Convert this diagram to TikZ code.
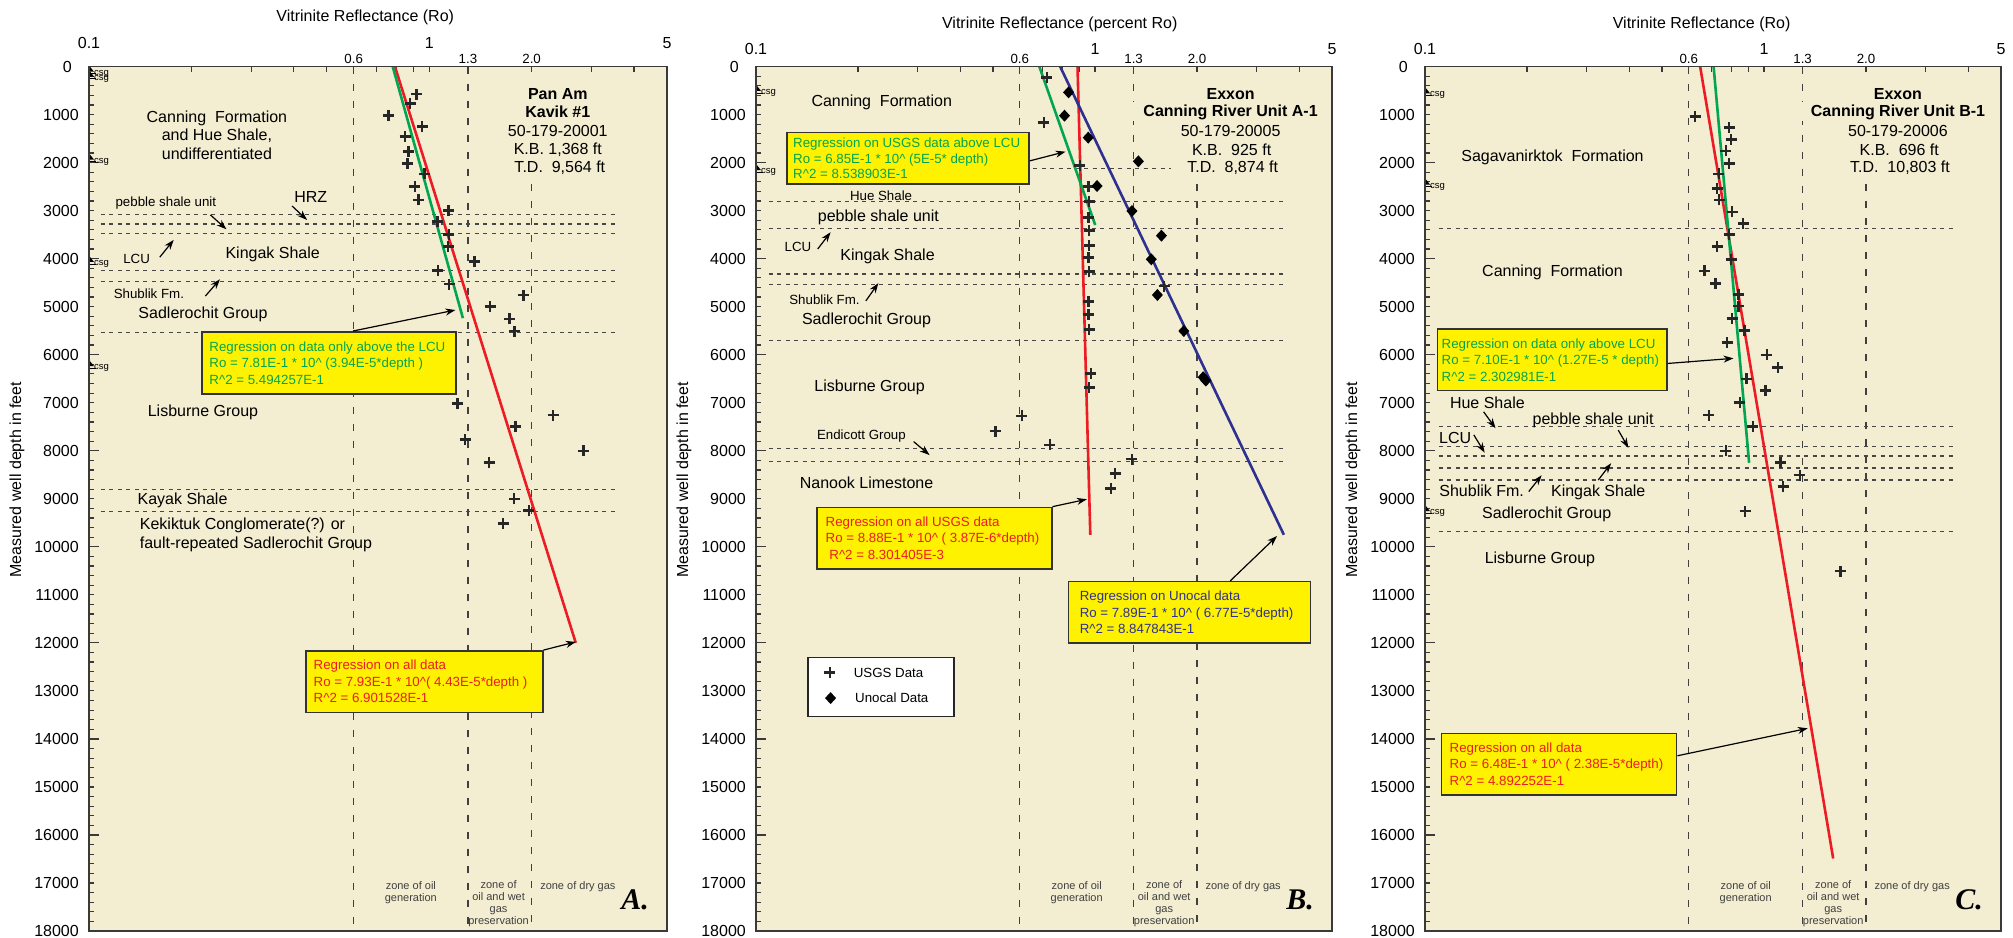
\documentclass[tikz,border=0pt]{standalone}
\usepackage{fontspec}
\setmainfont{Liberation Sans}
\newfontfamily\lblserif{Liberation Serif}
\usetikzlibrary{arrows.meta,calc}
\definecolor{bgc}{HTML}{F3EDD1}
\definecolor{ylw}{HTML}{FFF200}
\definecolor{rdl}{HTML}{ED1C24}
\definecolor{grl}{HTML}{00A651}
\definecolor{bll}{HTML}{2E3192}
\definecolor{frm}{HTML}{3A3A3A}
\tikzset{
 f16/.style={font=\fontsize{16}{18.7}\selectfont, inner sep=0pt},
 fb/.style={font=\fontsize{16}{18.7}\selectfont\bfseries},
 f13/.style={font=\fontsize{13.3}{16}\selectfont, inner sep=0pt},
 f11/.style={font=\fontsize{11}{12}\selectfont, text=black!75, inner sep=0pt, align=center},
 btext/.style={font=\fontsize{13.3}{16.5}\selectfont, align=left, inner sep=0pt},
 csgt/.style={font=\fontsize{9.5}{10}\selectfont, inner sep=0pt},
 winfo/.style={fill=bgc, inner xsep=10pt, inner ysep=2pt},
 tickst/.style={draw=frm, line width=1.2pt},
 vdash/.style={draw=black!75, line width=1.2pt, dash pattern=on 7pt off 10pt},
 hdot/.style={draw=black!72, line width=1.2pt, dash pattern=on 4pt off 4.5pt},
 plotframe/.style={draw=frm, line width=1.8pt},
 redl/.style={draw=rdl, line width=2.6pt},
 grnl/.style={draw=grl, line width=2.6pt},
 blul/.style={draw=bll, line width=2.6pt},
 crs/.style={draw=black!85, line width=2.4pt},
 ybox/.style={draw=black!80, line width=1.5pt, fill=ylw, inner sep=0pt},
 arr/.style={draw=black, line width=1.2pt, -{Stealth[length=10pt,width=7pt]}},
 letterlbl/.style={font={\fontsize{30}{30}\lblserif\bfseries\itshape}, inner sep=0pt}
}
\newcommand\plotframe[6]{%
 \fill[bgc] (0,0) rectangle (1.69897,18);
 \foreach \kk in {0.2,0.4,...,17.9} \draw[tickst] (0,\kk) -- ++(5pt,0);
 \foreach \kk in {2,4,...,16} \draw[tickst] (0,\kk) -- ++(10pt,0);
 \foreach \dd in {0.30103,0.47712,0.60206,0.69897,0.84510,0.90309,0.95424,1,1.30103,1.47712,1.60206} \draw[tickst] (\dd,0) -- ++(0,-5pt);
 \draw[vdash] (0.77815,0) -- (0.77815,18);
 \draw[vdash] (1.11394,0) -- (1.11394,18);
 \draw[vdash] (1.30103,2.45) -- (1.30103,18);
 \node[f16,anchor=east] (#6d0) at ([xshift=-17pt]0,0) {0};
 \foreach \kk in {1,...,18} \node[f16,anchor=east] (#6d\kk) at ([xshift=-10pt]0,\kk) {\number\numexpr\kk*1000\relax};
 \node[f16,rotate=90] (#6ylab) at ([xshift=-72pt]0,8.6) {Measured well depth in feet};
 \node[f16] (#6title) at ([yshift=#3]#2,0) {#1};
 \node[f16] (#6xa) at ([yshift=#4]0,0) {0.1};
 \node[f16] (#6xb) at ([yshift=#4]1,0) {1};
 \node[f16] (#6xc) at ([yshift=#4]1.69897,0) {5};
 \node[f13] (#6xd) at ([yshift=8pt]0.77815,0) {0.6};
 \node[f13] (#6xe) at ([yshift=8pt]1.11394,0) {1.3};
 \node[f13] (#6xf) at ([yshift=8pt]1.30103,0) {2.0};
 \node[f11] (#6za) at (0.946,17.2) {zone of oil\\generation};
 \node[f11] (#6zb) at (1.204,17.44) {zone of\\oil and wet\\gas\\preservation};
 \node[f11] (#6zc) at (1.437,17.07) {zone of dry gas};
 \node[letterlbl] (#6let) at (1.605,17.35) {#5};
}
\newcommand\crosses[1]{\foreach \aa/\bb in {#1} \draw[crs] (\aa,\bb) +(-5.5pt,0) -- +(5.5pt,0) (\aa,\bb) +(0,-5.5pt) -- +(0,5.5pt);}
\newcommand\diams[1]{\foreach \aa/\bb in {#1} \fill[black] (\aa,\bb) +(0,6pt) -- +(5.5pt,0) -- +(0,-6pt) -- +(-5.5pt,0) -- cycle;}
\newcommand\csgmark[2]{%
 \fill[black] ([xshift=1pt,yshift=7pt]0,#1) -- ([xshift=5pt,yshift=2pt]0,#1) -- ([xshift=1pt,yshift=2pt]0,#1) -- cycle;
 \draw[black,line width=0.8pt] ([xshift=1pt]0,#1) -- ([xshift=7pt]0,#1);
 \node[csgt,anchor=base west] (#2) at ([xshift=5pt,yshift=-1.5pt]0,#1) {csg};}
\begin{document}
\begin{tikzpicture}[x=1pt,y=1pt]
\useasboundingbox (0,0) rectangle (2013,-937);
\fill[white] (0,0) rectangle (2013,-937);

%================ PANEL A
\begin{scope}[shift={(89pt,-66.5pt)},x=340.2pt,y=-48.03pt]
\plotframe{Vitrinite Reflectance (Ro)}{0.812}{49.5pt}{23.5pt}{A.}{A}
\foreach \kk in {3.08,3.28,3.47,4.25,4.48,5.53,8.80,9.27} \draw[hdot] (0.035,\kk) -- (1.55,\kk);
\node[winfo,fb] (Aw1) at (1.378,0.573) {Pan Am};
\node[winfo,fb] (Aw2) at (1.378,0.947) {Kavik \#1};
\node[winfo,f16,inner xsep=10pt,inner ysep=2pt] (Aw3) at (1.378,1.336) {50-179-20001};
\node[winfo,f16,inner xsep=10pt,inner ysep=2pt] (Aw4) at (1.378,1.724) {K.B. 1,368 ft};
\node[winfo,f16,inner xsep=10pt,inner ysep=2pt] (Aw5) at (1.384,2.106) {T.D.\ \ 9,564 ft};
\csgmark{0.15}{Acsg1}\csgmark{0.25}{Acsg2}\csgmark{1.98}{Acsg3}\csgmark{4.11}{Acsg4}\csgmark{6.28}{Acsg5}
\draw[redl] (0.89927,0) -- (1.43087,12);
\draw[grnl] (0.89265,0) -- (1.09911,5.24);
\crosses{0.963/0.573, 0.944/0.767, 0.880/1.017, 0.979/1.253, 0.929/1.461, 0.939/1.773, 0.936/2.016, 0.986/2.238, 0.958/2.502, 0.968/2.779, 1.057/3.001, 1.024/3.230, 1.058/3.494, 1.056/3.751, 1.133/4.063, 1.025/4.251, 1.059/4.529, 1.277/4.758, 1.179/5.000, 1.236/5.257, 1.251/5.507, 1.083/7.013, 1.364/7.256, 1.254/7.499, 1.106/7.762, 1.453/8.005, 1.176/8.248, 1.250/9.004, 1.293/9.247, 1.217/9.511}
\node[f16,align=center] (Acan) at (0.376,1.43) {Canning\ \ Formation\\and Hue Shale,\\undifferentiated};
\node[f16] (Ahrz) at (0.652,2.71) {HRZ};
\node[f13] (Apeb) at (0.226,2.85) {pebble shale unit};
\node[f13] (Alcu) at (0.140,4.01) {LCU};
\node[f16] (Akin) at (0.540,3.92) {Kingak Shale};
\node[f13] (Ashu) at (0.176,4.74) {Shublik Fm.};
\node[f16] (Asad) at (0.335,5.16) {Sadlerochit Group};
\node[f16] (Alis) at (0.335,7.21) {Lisburne Group};
\node[f16] (Akay) at (0.275,9.04) {Kayak Shale};
\node[f16,align=left,anchor=west] (Akek) at (0.149,9.755) {Kekiktuk Conglomerate(?) or\\fault-repeated Sadlerochit Group};
\coordinate (Ahrz1) at (0.597,2.905); \coordinate (Ahrz2) at (0.641,3.196);
\coordinate (Apeb1) at (0.357,3.09); \coordinate (Apeb2) at (0.404,3.39);
\coordinate (Alcu1) at (0.208,3.97); \coordinate (Alcu2) at (0.249,3.61);
\coordinate (Ashu1) at (0.342,4.78); \coordinate (Ashu2) at (0.385,4.43);
\draw[arr] (Ahrz1) -- (Ahrz2); \draw[arr] (Apeb1) -- (Apeb2);
\draw[arr] (Alcu1) -- (Alcu2); \draw[arr] (Ashu1) -- (Ashu2);
\node[ybox,anchor=north west,minimum width=254pt,minimum height=62pt] (gA) at (0.330,5.507) {};
\node[btext,text=grl,anchor=west] (gAt) at ([xshift=8pt]gA.west) {Regression on data only above the LCU\\Ro = 7.81E-1 * 10\textasciicircum{} (3.94E-5*depth )\\R\textasciicircum{}2 = 5.494257E-1};
\coordinate (gAtip) at (1.077,5.07);
\draw[arr] ($(gA.north west)!0.594!(gA.north east)$) -- (gAtip);
\node[ybox,anchor=north west,minimum width=237pt,minimum height=61.5pt] (rA) at (0.635,12.15) {};
\node[btext,text=rdl,anchor=west] (rAt) at ([xshift=8.5pt]rA.west) {Regression on all data\\Ro = 7.93E-1 * 10\textasciicircum( 4.43E-5*depth )\\R\textasciicircum{}2 = 6.901528E-1};
\coordinate (rAtip) at (1.431,11.98);
\draw[arr] (rA.north east) -- (rAtip);
\draw[plotframe] (0,0) rectangle (1.69897,18);
\end{scope}

%================ PANEL B
\begin{scope}[shift={(756pt,-66.5pt)},x=339pt,y=-48.03pt]
\plotframe{Vitrinite Reflectance (percent Ro)}{0.896}{42.5pt}{17.5pt}{B.}{B}
\draw[hdot] (0.09,2.12) -- (1.223,2.12);
\foreach \kk in {2.814,3.369,4.32,4.535,5.70,7.95,8.23} \draw[hdot] (0.038,\kk) -- (1.556,\kk);
\node[winfo,fb] (Bw1) at (1.40,0.573) {Exxon};
\node[winfo,fb] (Bw2) at (1.40,0.947) {Canning River Unit A-1};
\node[winfo,f16,inner xsep=10pt,inner ysep=2pt] (Bw3) at (1.40,1.336) {50-179-20005};
\node[winfo,f16,inner xsep=10pt,inner ysep=2pt] (Bw4) at (1.403,1.724) {K.B.\ \ 925 ft};
\node[winfo,f16,inner xsep=10pt,inner ysep=2pt] (Bw5) at (1.406,2.106) {T.D.\ \ 8,874 ft};
\csgmark{0.55}{Bcsg1}\csgmark{2.2}{Bcsg2}
\draw[redl] (0.94841,0) -- (0.98614,9.75);
\draw[blul] (0.89708,0) -- (1.55716,9.75);
\draw[grnl] (0.83569,0) -- (1.00069,3.30);
\crosses{0.858/0.232, 0.849/1.169, 0.955/2.065, 0.981/2.502, 0.983/2.814, 0.981/3.140, 0.983/3.418, 0.983/3.730, 0.981/3.980, 0.983/4.271, 0.981/4.896, 0.981/5.160, 0.983/5.472, 0.988/6.388, 0.983/6.686, 0.784/7.276, 0.706/7.589, 0.867/7.880, 1.109/8.178, 1.204/4.570, 1.059/8.470, 1.047/8.782}
\diams{0.922/0.538, 0.910/1.024, 0.980/1.481, 1.128/1.974, 1.006/2.488, 1.109/3.009, 1.196/3.522, 1.166/4.014, 1.184/4.757, 1.262/5.507, 1.319/6.470, 1.327/6.540}
\node[f16] (Bcan) at (0.371,0.753) {Canning\ \ Formation};
\node[f13] (Bhue) at (0.369,2.69) {Hue Shale};
\node[f16] (Bpeb) at (0.361,3.14) {pebble shale unit};
\node[f13] (Blcu) at (0.124,3.75) {LCU};
\node[f16] (Bkin) at (0.388,3.945) {Kingak Shale};
\node[f13] (Bshu) at (0.202,4.85) {Shublik Fm.};
\node[f16] (Bsad) at (0.326,5.28) {Sadlerochit Group};
\node[f16] (Blis) at (0.335,6.69) {Lisburne Group};
\node[f13] (Bend) at (0.311,7.69) {Endicott Group};
\node[f16] (Bnan) at (0.326,8.66) {Nanook Limestone};
\coordinate (Blcu1) at (0.182,3.80); \coordinate (Blcu2) at (0.220,3.45);
\coordinate (Bshu1) at (0.324,4.88); \coordinate (Bshu2) at (0.361,4.51);
\coordinate (Bend1) at (0.465,7.81); \coordinate (Bend2) at (0.512,8.09);
\draw[arr] (Blcu1) -- (Blcu2); \draw[arr] (Bshu1) -- (Bshu2); \draw[arr] (Bend1) -- (Bend2);
\node[ybox,anchor=north west,minimum width=242pt,minimum height=51.7pt] (gB) at (0.0896,1.357) {};
\node[btext,text=grl,anchor=west,font=\fontsize{13.3}{15.8}\selectfont] (gBt) at ([xshift=6.6pt]gB.west) {Regression on USGS data above LCU\\Ro = 6.85E-1 * 10\textasciicircum{} (5E-5* depth)\\R\textasciicircum{}2 = 8.538903E-1};
\coordinate (gBtip) at (0.913,1.773);
\draw[arr] ($(gB.north east)!0.548!(gB.south east)$) -- (gBtip);
\node[ybox,anchor=north west,minimum width=235pt,minimum height=61.6pt] (rB) at (0.177,9.164) {};
\node[btext,text=rdl,anchor=west] (rBt) at ([xshift=9.5pt]rB.west) {Regression on all USGS data\\Ro = 8.88E-1 * 10\textasciicircum{} ( 3.87E-6*depth)\\\ R\textasciicircum{}2 = 8.301405E-3};
\coordinate (rBtip) at (0.976,9.01);
\draw[arr] (rB.north east) -- (rBtip);
\node[ybox,anchor=north west,minimum width=242pt,minimum height=61.4pt] (uB) at (0.919,10.71) {};
\node[btext,text=bll,anchor=west] (uBt) at ([xshift=12pt]uB.west) {Regression on Unocal data\\Ro = 7.89E-1 * 10\textasciicircum{} ( 6.77E-5*depth)\\R\textasciicircum{}2 = 8.847843E-1};
\coordinate (uBtip) at (1.537,9.775);
\draw[arr] ($(uB.north west)!0.668!(uB.north east)$) -- (uBtip);
\node[draw=black!85,line width=1.5pt,fill=white,anchor=north west,minimum width=146pt,minimum height=59pt,inner sep=0pt] (legB) at (0.151,12.29) {};
\crosses{0.218/12.62}
\diams{0.220/13.15}
\node[btext,anchor=west] (legB1) at (0.288,12.62) {USGS Data};
\node[btext,anchor=west] (legB2) at (0.292,13.15) {Unocal Data};
\draw[plotframe] (0,0) rectangle (1.69897,18);
\end{scope}

%================ PANEL C
\begin{scope}[shift={(1425pt,-66.5pt)},x=339pt,y=-48.03pt]
\plotframe{Vitrinite Reflectance (Ro)}{0.816}{42.5pt}{17.5pt}{C.}{C}
\foreach \kk in {3.369,7.50,7.91,8.11,8.36,8.61,9.685} \draw[hdot] (0.04,\kk) -- (1.56,\kk);
\node[winfo,fb] (Cw1) at (1.395,0.573) {Exxon};
\node[winfo,fb] (Cw2) at (1.395,0.947) {Canning River Unit B-1};
\node[winfo,f16,inner xsep=10pt,inner ysep=2pt] (Cw3) at (1.395,1.336) {50-179-20006};
\node[winfo,f16,inner xsep=10pt,inner ysep=2pt] (Cw4) at (1.399,1.724) {K.B.\ \ 696 ft};
\node[winfo,f16,inner xsep=10pt,inner ysep=2pt] (Cw5) at (1.401,2.106) {T.D.\ \ 10,803 ft};
\csgmark{0.6}{Ccsg1}\csgmark{2.5}{Ccsg2}\csgmark{9.3}{Ccsg3}
\draw[redl] (0.81158,0) -- (1.20404,16.49);
\draw[grnl] (0.85126,0) -- (0.95604,8.25);
\crosses{0.797/1.044, 0.897/1.273, 0.903/1.516, 0.887/1.759, 0.897/2.016, 0.867/2.238, 0.862/2.543, 0.868/2.779, 0.906/3.029, 0.938/3.265, 0.897/3.494, 0.862/3.751, 0.903/4.015, 0.825/4.257, 0.857/4.514, 0.925/4.744, 0.925/4.987, 0.906/5.243, 0.942/5.500, 0.891/5.743, 1.008/6.006, 1.041/6.263, 0.948/6.506, 1.004/6.749, 0.929/6.999, 0.837/7.256, 0.967/7.499, 0.887/8.005, 1.049/8.248, 1.106/8.505, 1.056/8.748, 0.944/9.255, 1.225/10.504}
\node[f16] (Csag) at (0.376,1.898) {Sagavanirktok\ \ Formation};
\node[f16] (Ccan) at (0.376,4.29) {Canning\ \ Formation};
\node[f16] (Chue) at (0.184,7.00) {Hue Shale};
\node[f16] (Cpeb) at (0.496,7.37) {pebble shale unit};
\node[f16] (Clcu) at (0.089,7.73) {LCU};
\node[f16] (Cshu) at (0.167,8.83) {Shublik Fm.};
\node[f16] (Ckin) at (0.511,8.86) {Kingak Shale};
\node[f16] (Csad) at (0.359,9.32) {Sadlerochit Group};
\node[f16] (Clis) at (0.339,10.27) {Lisburne Group};
\coordinate (Chue1) at (0.173,7.19); \coordinate (Chue2) at (0.208,7.53);
\coordinate (Cpeb1) at (0.570,7.57); \coordinate (Cpeb2) at (0.600,7.94);
\coordinate (Clcu1) at (0.144,7.67); \coordinate (Clcu2) at (0.176,8.04);
\coordinate (Cshu1) at (0.306,8.85); \coordinate (Cshu2) at (0.344,8.51);
\coordinate (Ckin1) at (0.511,8.61); \coordinate (Ckin2) at (0.549,8.26);
\draw[arr] (Chue1) -- (Chue2); \draw[arr] (Cpeb1) -- (Cpeb2); \draw[arr] (Clcu1) -- (Clcu2);
\draw[arr] (Cshu1) -- (Cshu2); \draw[arr] (Ckin1) -- (Ckin2);
\node[ybox,anchor=north west,minimum width=229.5pt,minimum height=61.7pt] (gC) at (0.034,5.45) {};
\node[btext,text=grl,anchor=west] (gCt) at ([xshift=5pt]gC.west) {Regression on data only above LCU\\Ro = 7.10E-1 * 10\textasciicircum{} (1.27E-5 * depth)\\R\textasciicircum{}2 = 2.302981E-1};
\coordinate (gCtip) at (0.910,6.076);
\draw[arr] ($(gC.north east)!0.557!(gC.south east)$) -- (gCtip);
\node[ybox,anchor=north west,minimum width=235pt,minimum height=61.4pt] (rC) at (0.047,13.87) {};
\node[btext,text=rdl,anchor=west] (rCt) at ([xshift=8.5pt]rC.west) {Regression on all data\\Ro = 6.48E-1 * 10\textasciicircum{} ( 2.38E-5*depth)\\R\textasciicircum{}2 = 4.892252E-1};
\coordinate (rCtip) at (1.129,13.78);
\draw[arr] ($(rC.north east)!0.367!(rC.south east)$) -- (rCtip);
\draw[plotframe] (0,0) rectangle (1.69897,18);
\end{scope}
\end{tikzpicture}
\end{document}
